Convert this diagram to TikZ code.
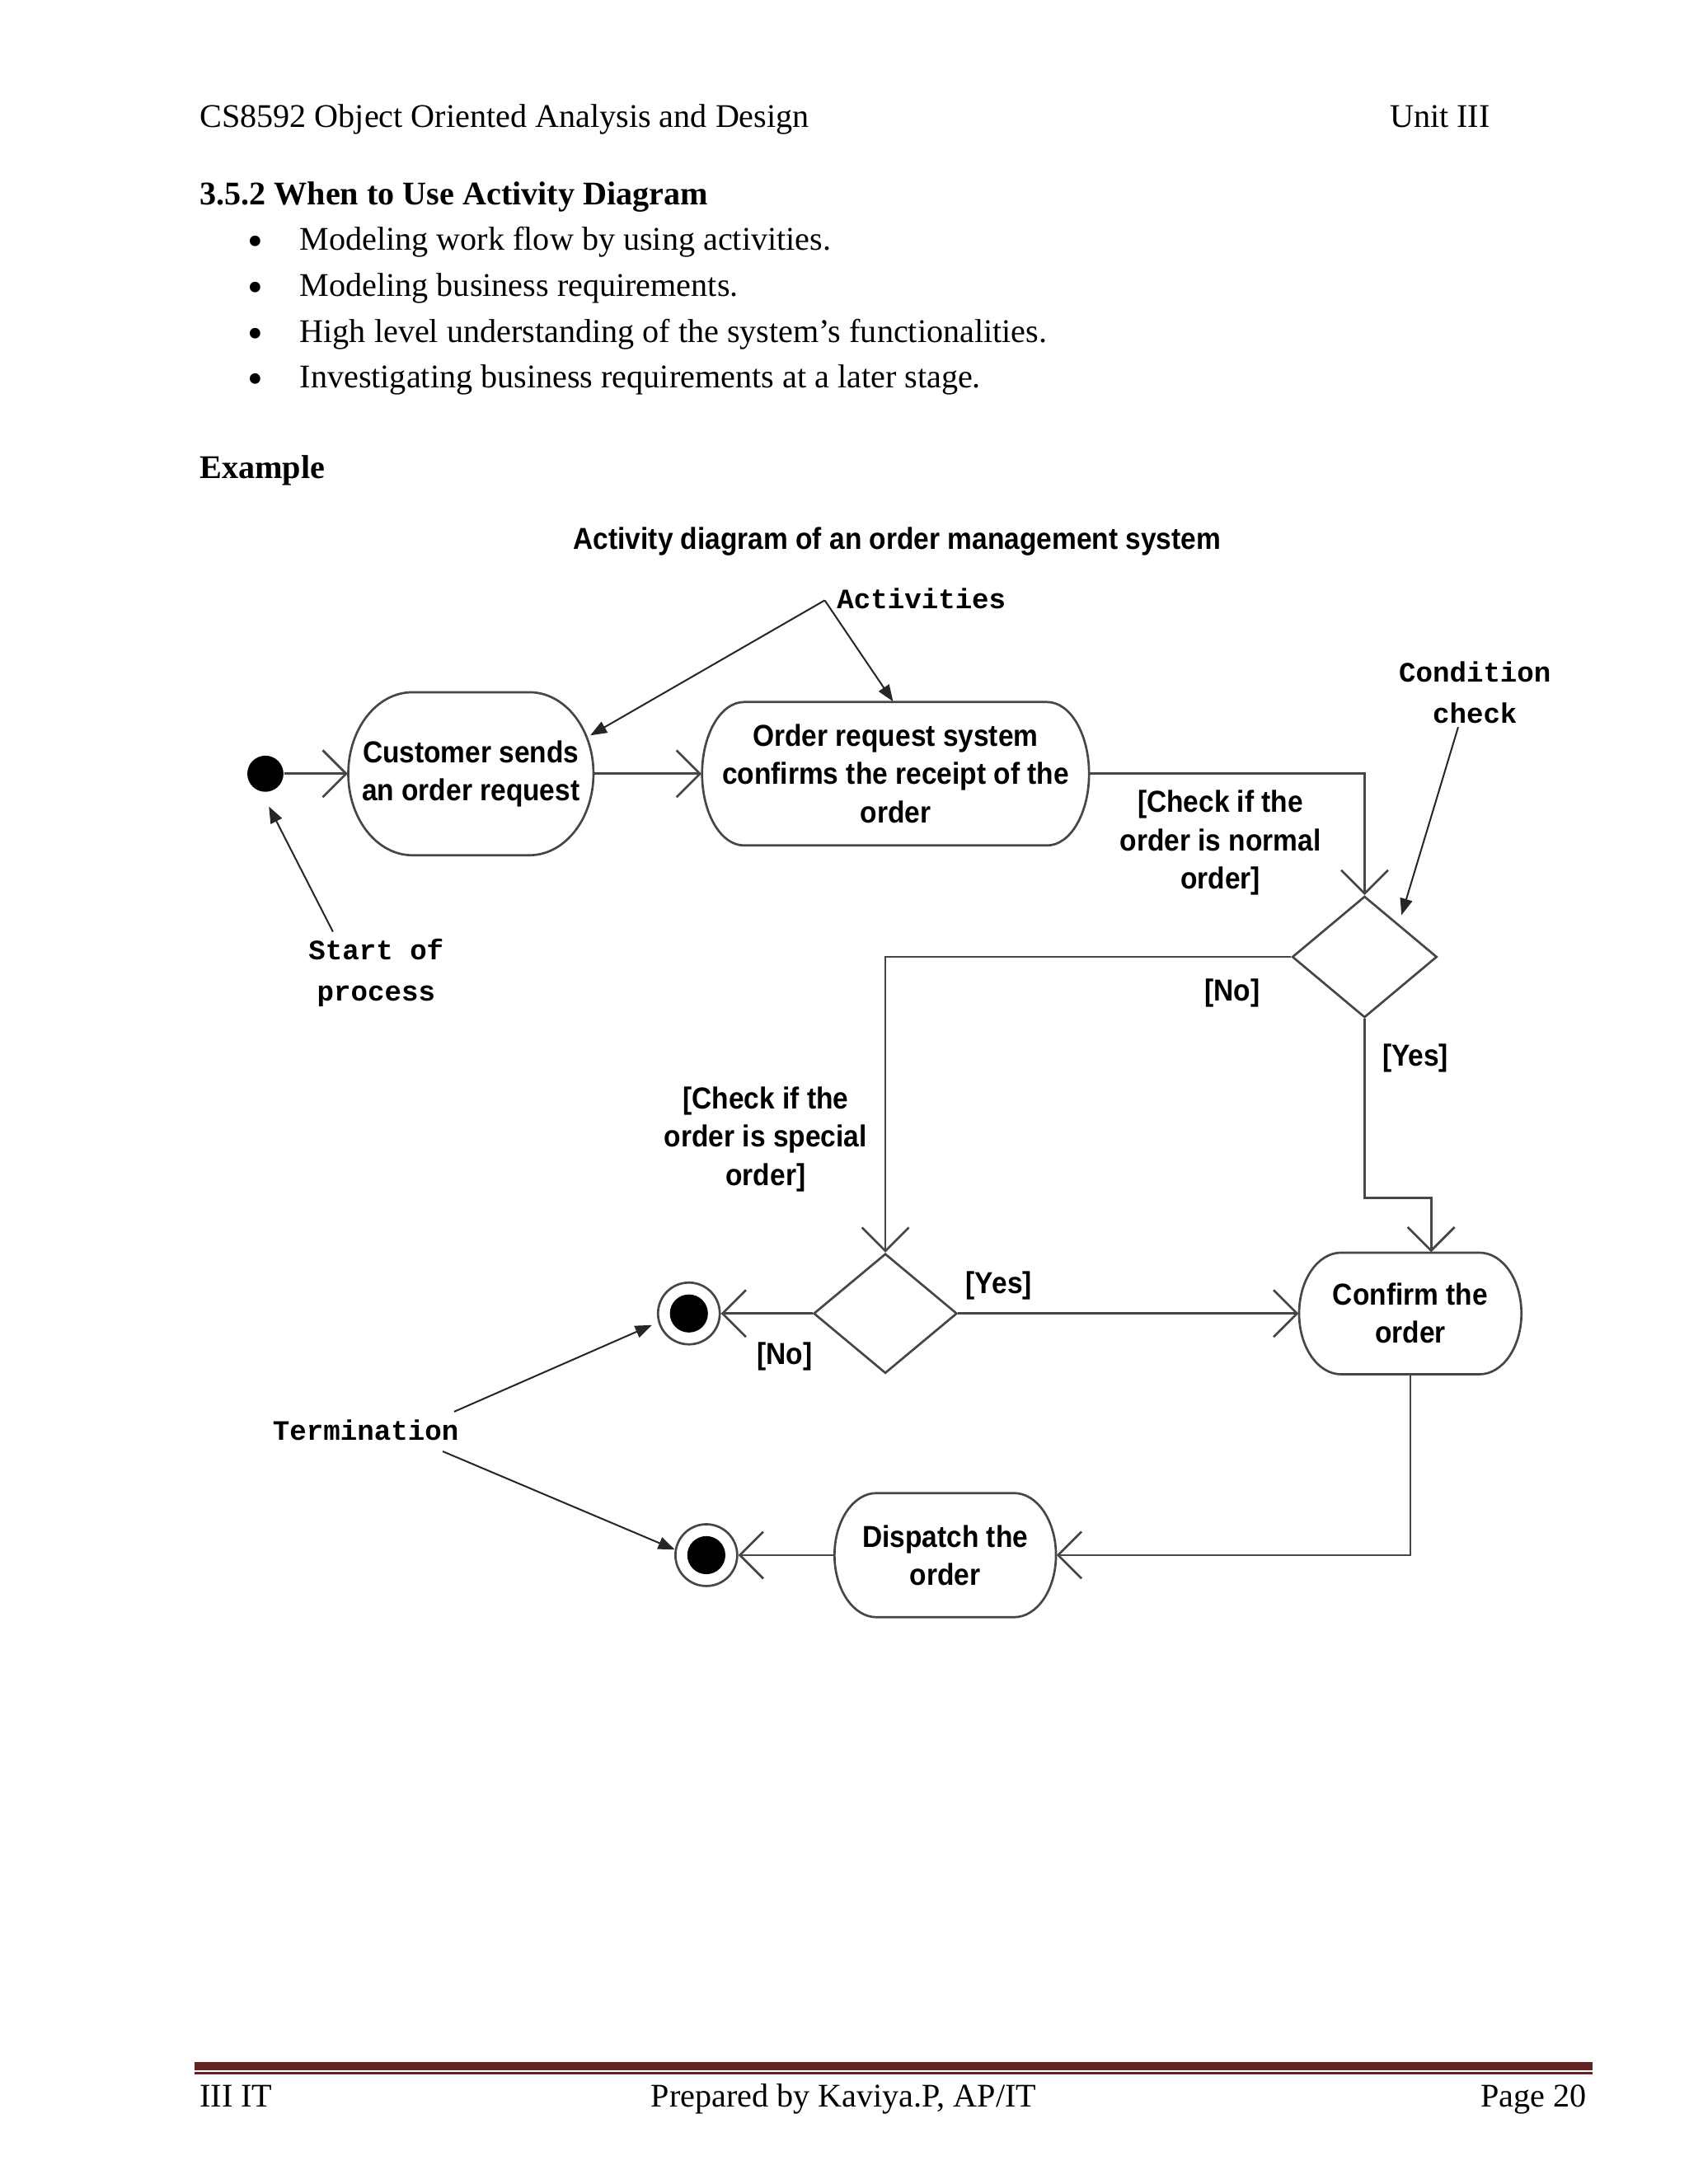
\documentclass[tikz,border=0pt]{standalone}
\usepackage{fontspec}
\setmainfont{Liberation Serif}
\newfontfamily\dsans[FakeStretch=0.91]{Liberation Sans}
\newfontfamily\dmono{Liberation Mono}
\usetikzlibrary{arrows.meta,shapes.geometric,calc}
\definecolor{lc}{RGB}{70,70,70}
\definecolor{maroon}{RGB}{98,36,35}
% stadium outline around a node: name, half width, half height, corner x-radius (pt)
\newcommand\stadium[4]{%
  \begin{scope}[shift={(#1.center)},x=1pt,y=1pt]
    \draw[shapeline] ({-#2+#4},#3) -- ({#2-#4},#3)
      arc[start angle=90,end angle=-90,x radius=#4pt,y radius=#3pt]
      -- ({-#2+#4},-#3)
      arc[start angle=270,end angle=90,x radius=#4pt,y radius=#3pt] -- cycle;
  \end{scope}}
\begin{document}
\begin{tikzpicture}[x=0.5051pt,y=-0.5051pt,
  shapeline/.style={draw=lc,line width=0.8pt},
  flow/.style={draw=lc,line width=0.8pt,-{Straight Barb[length=8.5pt,width=17pt]}},
  annot/.style={draw=black!85,line width=0.6pt,-{Triangle[length=6pt,width=4.5pt]}},
  txt/.style={font=\dsans\bfseries\fontsize{11}{13.8}\selectfont,align=center,inner sep=0pt},
  mono/.style={font=\dmono\bfseries\fontsize{10.2}{14.8}\selectfont,align=center,inner sep=0pt},
  serif/.style={font=\fontsize{12}{14}\selectfont,inner sep=0pt},
  serifb/.style={font=\bfseries\fontsize{12}{14}\selectfont,inner sep=0pt},
  bul/.style={font=\fontsize{16}{18}\selectfont,inner sep=0pt,anchor=base},
  decision/.style={diamond,draw=lc,line width=0.8pt,inner sep=0pt},
  final/.style={circle,draw=lc,line width=0.8pt,minimum size=22.4pt,inner sep=0pt,
    path picture={\fill[black] (path picture bounding box.center) circle (6.9pt);}}
]
\path[use as bounding box] (0,0) rectangle (1212,1568);

% ---------- page header ----------
\node[serif,anchor=base west] (hdl) at (143,91.7) {CS8592 Object Oriented Analysis and Design};
\node[serif,anchor=base east] (hdr) at (1070,91.7) {Unit III};
\node[serifb,anchor=base west] (head) at (143,146.8) {3.5.2 When to Use Activity Diagram};
\node[bul] (b1) at (183.4,183.5) {\textbullet};
\node[serif,anchor=base west] (t1) at (214.8,179.4) {Modeling work flow by using activities.};
\node[bul] (b2) at (183.4,216.7) {\textbullet};
\node[serif,anchor=base west] (t2) at (214.8,212.6) {Modeling business requirements.};
\node[bul] (b3) at (183.4,249.7) {\textbullet};
\node[serif,anchor=base west] (t3) at (214.8,245.6) {High level understanding of the system's functionalities.};
\node[bul] (b4) at (183.4,282.6) {\textbullet};
\node[serif,anchor=base west] (t4) at (214.8,278.5) {Investigating business requirements at a later stage.};
\node[serifb,anchor=base west] (ex) at (143,343.2) {Example};

% ---------- diagram ----------
\node[txt] (title) at (644,389) {Activity diagram of an order management system};

\node[circle,fill=black,minimum size=13.1pt,inner sep=0pt] (start) at (190.5,555.5) {};

\node[txt,minimum width=88.9pt,minimum height=59.1pt] (cust) at (338,555.5) {Customer sends\\an order request};
\stadium{cust}{44.45}{29.55}{23.2}

\node[txt,minimum width=140.3pt,minimum height=52pt] (order) at (642.85,555.5) {Order request system\\confirms the receipt of the\\order};
\stadium{order}{70.15}{26}{15.2}

\node[decision,minimum width=52.5pt,minimum height=44pt] (d1) at (979.5,687) {};
\node[decision,minimum width=52pt,minimum height=43.4pt] (d2) at (635.5,943) {};

\node[txt,minimum width=80.6pt,minimum height=44.1pt] (conf) at (1012.3,943) {Confirm the\\order};
\stadium{conf}{40.3}{22.05}{15.2}

\node[txt,minimum width=80.3pt,minimum height=45pt] (disp) at (678.5,1116.5) {Dispatch the\\order};
\stadium{disp}{40.15}{22.5}{15.2}

\node[final] (f1) at (494.5,943) {};
\node[final] (f2) at (507,1116.5) {};

% flows
\draw[flow] (start) -- (cust);
\draw[flow] (cust) -- (order);
\draw[flow] (order.east) -| (d1.north);
\draw[flow] (d1.west) -| (d2.north);
\draw[flow] (d1.south) -- ++(0,128.5) -| ([xshift=7.58pt]conf.north);
\draw[flow] (d2.east) -- (conf.west);
\draw[flow] (d2.west) -- (f1);
\draw[flow] (conf.south) |- (disp.east);
\draw[flow] (disp.west) -- (f2);

% guard labels
\node[txt] (g1) at (876,605) {[Check if the\\order is normal\\order]};
\node[txt] (g2) at (549.6,818) {[Check if the\\order is special\\order]};
\node[txt] (no1) at (884.5,713) {[No]};
\node[txt] (yes1) at (1016,760) {[Yes]};
\node[txt] (yes2) at (717,923) {[Yes]};
\node[txt] (no2) at (563.3,974) {[No]};

% annotations
\node[mono] (actlbl) at (661.4,430) {Activities};
\coordinate (acttail) at (592,431);
\coordinate (acttip1) at (423.7,528);
\draw[annot] (acttail) -- (acttip1);
\draw[annot] (acttail) -- ([xshift=-0.9pt]order.north);

\node[mono] (condlbl) at (1058.7,497.3) {Condition\\check};
\coordinate (condtail) at (1046.7,522);
\coordinate (condtip) at (1006,657);
\draw[annot] (condtail) -- (condtip);

\node[mono] (startlbl) at (270,698.4) {Start of\\process};
\coordinate (starttail) at (239,669);
\coordinate (starttip) at (193,579);
\draw[annot] (starttail) -- (starttip);

\node[mono] (termlbl) at (262.5,1027) {Termination};
\coordinate (termtail1) at (326,1013.5);
\coordinate (termtail2) at (317.8,1042);
\draw[annot,shorten >=2.5pt] (termtail1) -- (f1.196);
\draw[annot] (termtail2) -- (f2.170);

% ---------- page footer ----------
\draw[maroon,line width=3pt] (139.5,1483.2) -- (1143,1483.2);
\draw[maroon,line width=0.8pt] (139.5,1488.4) -- (1143,1488.4);
\node[serif,anchor=base west] (fl) at (143,1512.5) {III IT};
\node[serif,anchor=base west] (fc) at (467,1512.5) {Prepared by Kaviya.P, AP/IT};
\node[serif,anchor=base east] (fr) at (1139,1512.5) {Page 20};
\end{tikzpicture}
\end{document}
